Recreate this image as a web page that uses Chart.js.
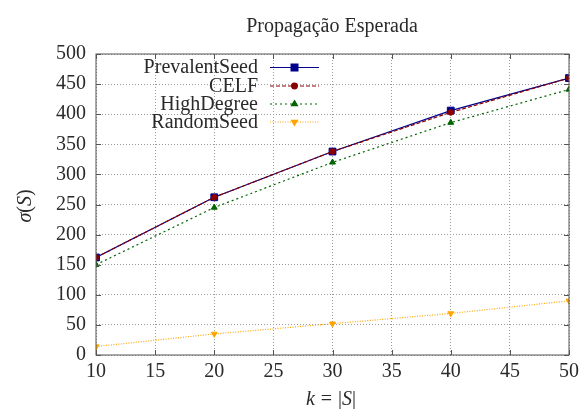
<!DOCTYPE html>
<html>
<head>
<meta charset="utf-8">
<script src="https://cdn.jsdelivr.net/npm/chart.js@4/dist/chart.umd.min.js"></script>
<style>
  html, body { margin: 0; padding: 0; background: #fff; }
  canvas { display: block; }
</style>
</head>
<body>
<canvas id="chart" width="582" height="409"></canvas>
<script>
// seed set sizes
const kValues = [10, 20, 30, 40, 50];

// expected spread per method
const prevalentSeed = [162, 262, 338, 406, 460];
const celf = [162, 262, 338, 403, 460];
const highDegree = [150, 245, 320, 386, 441];
const randomSeed = [14, 35, 52, 69, 90];

const xTicks = [10, 15, 20, 25, 30, 35, 40, 45, 50];
const yTicks = [0, 50, 100, 150, 200, 250, 300, 350, 400, 450, 500];

const serif = "'Liberation Serif', 'DejaVu Serif', serif";
const textColor = "#2a2a2a";
const fontSize = 20;

function toPoints(arr) {
  return kValues.map((k, i) => ({ x: k, y: arr[i] }));
}

const series = [
  { label: "PrevalentSeed", data: prevalentSeed, color: "#00008b", dash: [], style: "rect", radius: 4.8, rotation: 0 },
  { label: "CELF", data: celf, color: "#8b0000", dash: [4, 2], style: "circle", radius: 2.8, rotation: 0 },
  { label: "HighDegree", data: highDegree, color: "#006400", dash: [2, 3], style: "triangle", radius: 3.4, rotation: 0 },
  { label: "RandomSeed", data: randomSeed, color: "#ffa500", dash: [1, 1.5], style: "triangle", radius: 3.4, rotation: 180 },
];

// draws text pieces one after another (italic where asked), centred on x
function drawRuns(ctx, runs, x, y, size) {
  let total = 0;
  runs.forEach((r) => {
    ctx.font = (r.it ? "italic " : "") + size + "px " + serif;
    r.w = ctx.measureText(r.t).width + (r.gap || 0) * 2;
    total += r.w;
  });
  let cx = x - total / 2;
  runs.forEach((r) => {
    ctx.font = (r.it ? "italic " : "") + size + "px " + serif;
    ctx.fillText(r.t, cx + (r.gap || 0), y);
    cx += r.w;
  });
}

const gnuplotLook = {
  id: "gnuplotLook",
  afterDraw(chart) {
    const ctx = chart.ctx;
    const a = chart.chartArea;
    const xs = chart.scales.x;
    const ys = chart.scales.y;
    ctx.save();

    // frame and inward ticks
    ctx.strokeStyle = "#555";
    ctx.lineWidth = 1;
    ctx.setLineDash([]);
    ctx.strokeRect(a.left, a.top, a.right - a.left, a.bottom - a.top);
    ctx.beginPath();
    xTicks.forEach((t) => {
      const px = Math.round(xs.getPixelForValue(t)) + 0.5;
      ctx.moveTo(px, a.bottom); ctx.lineTo(px, a.bottom - 5);
      ctx.moveTo(px, a.top); ctx.lineTo(px, a.top + 5);
    });
    yTicks.forEach((t) => {
      const py = Math.round(ys.getPixelForValue(t)) + 0.5;
      ctx.moveTo(a.left, py); ctx.lineTo(a.left + 5, py);
      ctx.moveTo(a.right, py); ctx.lineTo(a.right - 5, py);
    });
    ctx.stroke();

    // title and axis titles
    ctx.fillStyle = textColor;
    ctx.textBaseline = "alphabetic";
    ctx.textAlign = "left";
    drawRuns(ctx, [{ t: "Propagação Esperada" }], 332, 32, fontSize);
    drawRuns(ctx, [{ t: "k", it: true }, { t: "=", gap: 6 }, { t: "|" }, { t: "S", it: true }, { t: "|" }], 331, 405, fontSize);
    ctx.save();
    ctx.translate(31, 206);
    ctx.rotate(-Math.PI / 2);
    drawRuns(ctx, [{ t: "σ", it: true }, { t: "(" }, { t: "S", it: true }, { t: ")" }], 0, 0, fontSize);
    ctx.restore();

    // key in the upper left corner
    const rowY = [67, 85.5, 103.5, 121.5];
    series.forEach((s, i) => {
      const y = rowY[i];
      ctx.font = fontSize + "px " + serif;
      ctx.textAlign = "right";
      ctx.fillStyle = textColor;
      ctx.fillText(s.label, 258, y + 6);
      ctx.strokeStyle = s.color;
      ctx.lineWidth = 1.2;
      ctx.setLineDash(s.dash);
      ctx.beginPath();
      ctx.moveTo(270, y + 0.5);
      ctx.lineTo(319, y + 0.5);
      ctx.stroke();
      ctx.setLineDash([]);
      ctx.fillStyle = s.color;
      Chart.helpers.drawPoint(ctx, {
        pointStyle: s.style,
        radius: s.radius,
        rotation: s.rotation,
        borderWidth: 1,
      }, 294.5, y + 0.5);
      ctx.fill();
    });
    ctx.restore();
  },
};

new Chart(document.getElementById("chart"), {
  type: "line",
  data: {
    // later series are drawn on top
    datasets: series.map((s) => ({
      label: s.label,
      data: toPoints(s.data),
      borderColor: s.color,
      backgroundColor: s.color,
      borderWidth: 1.2,
      borderDash: s.dash,
      pointStyle: s.style,
      pointRadius: s.radius,
      pointRotation: s.rotation,
      pointBorderWidth: 1,
      tension: 0,
      fill: false,
    })).reverse(),
  },
  options: {
    responsive: false,
    animation: false,
    layout: { padding: { top: 54, right: 13, left: 0, bottom: 0 } },
    plugins: {
      legend: { display: false },
      title: { display: false },
      tooltip: { enabled: false },
    },
    scales: {
      x: {
        type: "linear",
        min: 10,
        max: 50,
        afterBuildTicks: (scale) => { scale.ticks = xTicks.map((v) => ({ value: v })); },
        afterFit: (scale) => {
          scale.height = 54;
          scale.paddingLeft = 0;
          scale.paddingRight = 0;
        },
        grid: { color: "#9a9a9a", lineWidth: 1, drawTicks: false },
        border: { display: false, dash: [1, 2] },
        ticks: { color: textColor, padding: 5, maxRotation: 0, font: { family: serif, size: fontSize } },
      },
      y: {
        type: "linear",
        min: 0,
        max: 500,
        afterBuildTicks: (scale) => { scale.ticks = yTicks.map((v) => ({ value: v })); },
        afterFit: (scale) => {
          scale.width = 96;
          scale.paddingTop = 0;
          scale.paddingBottom = 0;
        },
        grid: { color: "#9a9a9a", lineWidth: 1, drawTicks: false },
        border: { display: false, dash: [1, 2] },
        ticks: { color: textColor, padding: 10, font: { family: serif, size: fontSize } },
      },
    },
  },
  plugins: [gnuplotLook],
});
</script>
</body>
</html>
